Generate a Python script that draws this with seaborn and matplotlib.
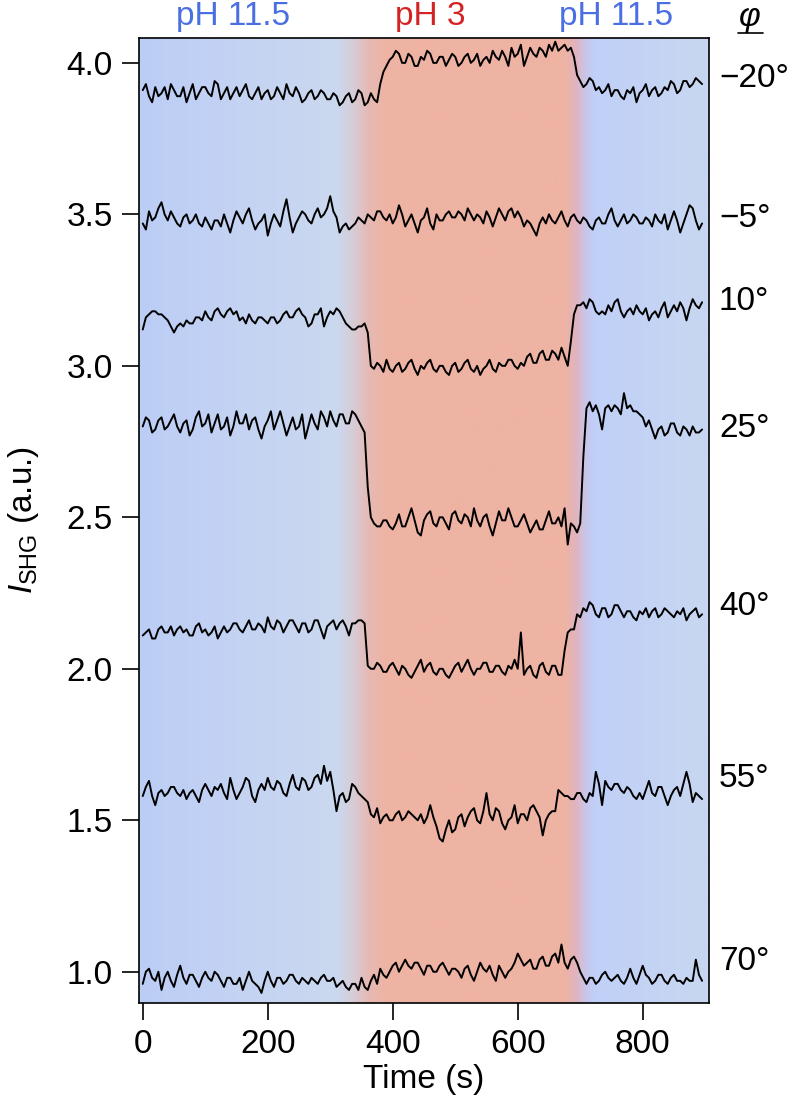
import matplotlib
matplotlib.use('Agg')
import matplotlib.pyplot as plt
import matplotlib.transforms as mtransforms
from matplotlib.colors import LinearSegmentedColormap
import numpy as np
import pandas as pd
import seaborn as sns

# sample times (s), one reading every 5 s
time_s = np.arange(0, 900, 5)

# SHG traces, one per polarisation angle
phi_m20 = [3.91, 3.93, 3.89, 3.87, 3.92, 3.89, 3.90, 3.92, 3.88, 3.93, 3.91, 3.89, 3.89, 3.92, 3.87, 3.90, 3.93, 3.88, 3.90, 3.92,
           3.92, 3.90, 3.89, 3.94, 3.93, 3.88, 3.90, 3.92, 3.88, 3.90, 3.92, 3.89, 3.91, 3.93, 3.89, 3.88, 3.90, 3.92, 3.88, 3.90,
           3.91, 3.88, 3.89, 3.92, 3.90, 3.88, 3.93, 3.90, 3.89, 3.92, 3.90, 3.87, 3.88, 3.90, 3.91, 3.88, 3.89, 3.91, 3.90, 3.88,
           3.88, 3.90, 3.89, 3.86, 3.87, 3.89, 3.90, 3.87, 3.88, 3.91, 3.90, 3.86, 3.87, 3.90, 3.88, 3.87, 3.93, 3.97, 3.99, 4.01,
           4.02, 4.04, 4.03, 4.00, 4.00, 4.03, 4.02, 3.99, 3.99, 4.02, 4.01, 4.04, 4.03, 4.00, 4.00, 4.02, 4.02, 3.99, 4.01, 4.03,
           4.02, 3.99, 4.00, 4.02, 4.03, 4.00, 4.01, 4.03, 3.99, 4.01, 4.02, 4.00, 4.04, 4.02, 4.01, 4.04, 4.02, 3.99, 4.05, 4.02,
           4.03, 4.06, 3.99, 4.02, 4.05, 4.03, 4.02, 4.05, 4.04, 4.02, 4.06, 4.04, 4.07, 4.04, 4.05, 4.06, 4.04, 4.05, 4.02, 3.96,
           3.94, 3.92, 3.93, 3.95, 3.94, 3.91, 3.92, 3.90, 3.91, 3.93, 3.89, 3.91, 3.91, 3.89, 3.88, 3.91, 3.90, 3.92, 3.87, 3.90,
           3.91, 3.93, 3.89, 3.91, 3.92, 3.89, 3.90, 3.92, 3.91, 3.94, 3.93, 3.90, 3.91, 3.94, 3.94, 3.92, 3.93, 3.95, 3.94, 3.93]
phi_m5 = [3.47, 3.45, 3.51, 3.48, 3.49, 3.52, 3.54, 3.50, 3.48, 3.51, 3.49, 3.47, 3.46, 3.49, 3.50, 3.47, 3.48, 3.50, 3.47, 3.46,
          3.49, 3.47, 3.45, 3.48, 3.48, 3.46, 3.50, 3.47, 3.44, 3.48, 3.51, 3.49, 3.47, 3.50, 3.52, 3.48, 3.45, 3.47, 3.48, 3.50,
          3.43, 3.47, 3.50, 3.48, 3.46, 3.51, 3.55, 3.49, 3.44, 3.47, 3.49, 3.51, 3.50, 3.48, 3.47, 3.50, 3.52, 3.49, 3.50, 3.52,
          3.56, 3.51, 3.49, 3.44, 3.46, 3.47, 3.45, 3.46, 3.47, 3.49, 3.48, 3.47, 3.50, 3.49, 3.48, 3.51, 3.51, 3.49, 3.48, 3.50,
          3.47, 3.49, 3.53, 3.50, 3.46, 3.48, 3.50, 3.47, 3.44, 3.48, 3.49, 3.52, 3.47, 3.45, 3.50, 3.48, 3.48, 3.50, 3.51, 3.49,
          3.49, 3.51, 3.50, 3.48, 3.52, 3.50, 3.48, 3.50, 3.49, 3.47, 3.51, 3.49, 3.46, 3.49, 3.52, 3.50, 3.48, 3.51, 3.52, 3.49,
          3.51, 3.49, 3.46, 3.48, 3.47, 3.45, 3.43, 3.47, 3.49, 3.47, 3.50, 3.48, 3.47, 3.49, 3.51, 3.48, 3.46, 3.49, 3.50, 3.48,
          3.47, 3.49, 3.48, 3.46, 3.45, 3.48, 3.49, 3.47, 3.47, 3.50, 3.52, 3.48, 3.46, 3.48, 3.50, 3.47, 3.48, 3.50, 3.49, 3.47,
          3.47, 3.49, 3.48, 3.46, 3.50, 3.48, 3.47, 3.50, 3.45, 3.48, 3.51, 3.48, 3.44, 3.47, 3.50, 3.53, 3.52, 3.48, 3.45, 3.47]
phi_10 = [3.12, 3.16, 3.17, 3.18, 3.18, 3.17, 3.17, 3.16, 3.15, 3.13, 3.11, 3.13, 3.14, 3.13, 3.15, 3.14, 3.14, 3.16, 3.16, 3.15,
          3.18, 3.16, 3.15, 3.18, 3.19, 3.17, 3.16, 3.18, 3.19, 3.17, 3.18, 3.15, 3.16, 3.14, 3.17, 3.15, 3.14, 3.16, 3.16, 3.15,
          3.14, 3.16, 3.16, 3.14, 3.15, 3.17, 3.18, 3.16, 3.16, 3.18, 3.19, 3.17, 3.16, 3.13, 3.14, 3.17, 3.17, 3.19, 3.13, 3.16,
          3.18, 3.17, 3.19, 3.18, 3.16, 3.14, 3.13, 3.12, 3.12, 3.13, 3.13, 3.14, 3.11, 3.00, 2.99, 3.01, 3.00, 2.98, 3.02, 2.99,
          2.98, 3.00, 3.01, 2.98, 2.99, 3.01, 3.02, 2.99, 2.97, 3.00, 2.99, 3.01, 3.02, 2.99, 2.98, 3.00, 3.00, 2.98, 2.97, 3.00,
          3.01, 2.98, 2.99, 3.01, 3.02, 2.99, 2.98, 3.00, 2.97, 2.99, 3.00, 3.02, 2.99, 2.98, 3.01, 3.00, 3.00, 3.02, 3.02, 3.00,
          2.99, 3.01, 3.00, 3.03, 3.04, 3.01, 3.01, 3.04, 3.05, 3.02, 3.02, 3.05, 3.04, 3.02, 3.06, 3.03, 3.00, 3.08, 3.17, 3.20,
          3.20, 3.21, 3.19, 3.22, 3.21, 3.18, 3.17, 3.18, 3.17, 3.20, 3.18, 3.21, 3.22, 3.18, 3.16, 3.18, 3.19, 3.17, 3.20, 3.18,
          3.17, 3.19, 3.15, 3.17, 3.18, 3.16, 3.19, 3.21, 3.16, 3.18, 3.20, 3.18, 3.21, 3.19, 3.15, 3.19, 3.22, 3.20, 3.19, 3.21]
phi_25 = [2.80, 2.83, 2.82, 2.78, 2.79, 2.82, 2.83, 2.79, 2.80, 2.82, 2.84, 2.80, 2.78, 2.81, 2.82, 2.77, 2.79, 2.83, 2.85, 2.80,
          2.81, 2.84, 2.78, 2.81, 2.84, 2.79, 2.80, 2.83, 2.77, 2.80, 2.85, 2.81, 2.81, 2.84, 2.79, 2.82, 2.83, 2.79, 2.76, 2.80,
          2.82, 2.85, 2.79, 2.82, 2.85, 2.81, 2.77, 2.80, 2.83, 2.79, 2.80, 2.84, 2.76, 2.80, 2.84, 2.81, 2.79, 2.85, 2.83, 2.80,
          2.85, 2.82, 2.80, 2.84, 2.84, 2.81, 2.81, 2.85, 2.84, 2.82, 2.80, 2.78, 2.60, 2.50, 2.48, 2.47, 2.47, 2.49, 2.49, 2.47,
          2.46, 2.48, 2.51, 2.47, 2.47, 2.50, 2.53, 2.49, 2.45, 2.44, 2.49, 2.51, 2.52, 2.48, 2.47, 2.50, 2.50, 2.48, 2.46, 2.51,
          2.52, 2.49, 2.48, 2.51, 2.50, 2.47, 2.53, 2.49, 2.47, 2.50, 2.51, 2.47, 2.44, 2.48, 2.52, 2.49, 2.49, 2.53, 2.50, 2.47,
          2.47, 2.49, 2.51, 2.48, 2.45, 2.47, 2.49, 2.46, 2.46, 2.49, 2.52, 2.48, 2.48, 2.50, 2.47, 2.53, 2.41, 2.48, 2.47, 2.45,
          2.48, 2.70, 2.86, 2.88, 2.85, 2.87, 2.84, 2.79, 2.86, 2.87, 2.85, 2.87, 2.86, 2.84, 2.91, 2.86, 2.87, 2.85, 2.85, 2.84,
          2.83, 2.80, 2.82, 2.79, 2.76, 2.79, 2.80, 2.77, 2.78, 2.81, 2.81, 2.78, 2.77, 2.80, 2.79, 2.77, 2.80, 2.78, 2.78, 2.79]
phi_40 = [2.11, 2.12, 2.13, 2.10, 2.10, 2.13, 2.14, 2.12, 2.12, 2.14, 2.11, 2.13, 2.14, 2.12, 2.13, 2.11, 2.11, 2.14, 2.15, 2.12,
          2.13, 2.11, 2.12, 2.14, 2.10, 2.12, 2.14, 2.12, 2.13, 2.15, 2.15, 2.13, 2.12, 2.14, 2.16, 2.13, 2.13, 2.15, 2.14, 2.12,
          2.17, 2.14, 2.13, 2.16, 2.15, 2.12, 2.14, 2.16, 2.16, 2.14, 2.12, 2.15, 2.15, 2.12, 2.13, 2.16, 2.16, 2.13, 2.10, 2.14,
          2.15, 2.16, 2.13, 2.15, 2.16, 2.14, 2.11, 2.15, 2.15, 2.16, 2.16, 2.15, 2.01, 2.00, 2.00, 2.02, 2.01, 1.99, 1.99, 2.01,
          2.02, 2.00, 1.98, 2.01, 2.00, 1.98, 1.97, 1.99, 2.01, 2.03, 1.99, 2.01, 2.02, 1.99, 1.98, 2.00, 2.00, 1.98, 1.97, 1.99,
          2.01, 2.02, 1.99, 2.01, 2.03, 2.00, 1.98, 2.00, 2.00, 2.02, 2.02, 1.99, 1.99, 2.01, 2.01, 1.99, 1.98, 2.01, 2.00, 2.03,
          2.00, 2.12, 1.98, 2.00, 2.01, 1.98, 1.97, 2.01, 2.02, 1.99, 1.98, 2.01, 2.01, 1.98, 1.98, 2.06, 2.12, 2.13, 2.13, 2.18,
          2.17, 2.20, 2.19, 2.22, 2.21, 2.18, 2.17, 2.20, 2.20, 2.17, 2.18, 2.21, 2.21, 2.19, 2.17, 2.19, 2.19, 2.17, 2.16, 2.19,
          2.18, 2.20, 2.17, 2.19, 2.20, 2.17, 2.18, 2.20, 2.19, 2.18, 2.17, 2.19, 2.18, 2.20, 2.16, 2.18, 2.19, 2.20, 2.17, 2.18]
phi_55 = [1.58, 1.61, 1.63, 1.58, 1.55, 1.59, 1.60, 1.58, 1.59, 1.61, 1.61, 1.59, 1.58, 1.60, 1.57, 1.59, 1.60, 1.58, 1.56, 1.60,
          1.62, 1.60, 1.58, 1.61, 1.60, 1.62, 1.59, 1.57, 1.64, 1.60, 1.57, 1.59, 1.61, 1.64, 1.63, 1.58, 1.56, 1.60, 1.62, 1.60,
          1.64, 1.61, 1.60, 1.63, 1.62, 1.59, 1.58, 1.62, 1.65, 1.61, 1.60, 1.64, 1.63, 1.60, 1.61, 1.64, 1.65, 1.62, 1.68, 1.63,
          1.66, 1.60, 1.53, 1.58, 1.59, 1.56, 1.57, 1.62, 1.61, 1.59, 1.58, 1.57, 1.56, 1.52, 1.51, 1.54, 1.49, 1.51, 1.52, 1.50,
          1.50, 1.52, 1.53, 1.50, 1.51, 1.53, 1.52, 1.51, 1.50, 1.52, 1.49, 1.51, 1.55, 1.51, 1.48, 1.44, 1.43, 1.47, 1.50, 1.46,
          1.47, 1.51, 1.52, 1.48, 1.51, 1.53, 1.54, 1.50, 1.49, 1.53, 1.59, 1.52, 1.50, 1.54, 1.53, 1.49, 1.47, 1.50, 1.51, 1.55,
          1.49, 1.52, 1.52, 1.50, 1.54, 1.55, 1.53, 1.51, 1.45, 1.50, 1.52, 1.53, 1.53, 1.60, 1.59, 1.58, 1.58, 1.57, 1.57, 1.59,
          1.59, 1.57, 1.56, 1.59, 1.58, 1.66, 1.62, 1.55, 1.63, 1.61, 1.60, 1.62, 1.62, 1.60, 1.59, 1.61, 1.60, 1.58, 1.57, 1.59,
          1.57, 1.60, 1.63, 1.59, 1.58, 1.61, 1.61, 1.58, 1.55, 1.58, 1.60, 1.61, 1.58, 1.62, 1.66, 1.62, 1.56, 1.59, 1.58, 1.57]
phi_70 = [0.96, 1.00, 1.01, 0.98, 0.97, 1.00, 0.94, 0.98, 1.00, 0.97, 0.95, 0.99, 1.02, 0.98, 0.96, 0.99, 0.99, 0.97, 0.95, 0.98,
          1.00, 0.98, 0.97, 1.00, 0.99, 0.97, 0.95, 0.98, 0.98, 0.96, 0.96, 0.98, 0.94, 0.97, 1.00, 0.97, 0.96, 0.95, 0.93, 0.97,
          1.00, 0.97, 0.95, 0.98, 0.98, 0.96, 0.97, 0.99, 0.99, 0.97, 0.96, 0.98, 0.97, 0.96, 0.98, 0.97, 0.96, 0.98, 0.99, 0.97,
          0.97, 0.98, 0.95, 0.96, 0.97, 0.95, 0.94, 0.96, 0.96, 0.94, 0.98, 0.95, 0.94, 0.97, 0.99, 0.96, 1.01, 0.99, 0.98, 1.00,
          1.02, 1.03, 1.00, 1.02, 1.04, 1.02, 1.01, 1.03, 1.03, 1.01, 0.99, 1.02, 1.02, 1.00, 1.00, 1.02, 1.03, 1.01, 0.99, 1.01,
          1.01, 1.00, 0.98, 1.01, 1.02, 0.99, 0.97, 1.00, 1.03, 1.01, 1.00, 1.02, 0.99, 0.97, 1.02, 1.00, 0.98, 1.00, 1.01, 1.03,
          1.06, 1.04, 1.02, 1.03, 1.04, 1.01, 1.01, 1.04, 1.05, 1.02, 1.02, 1.05, 1.06, 1.03, 1.09, 1.03, 1.01, 1.04, 1.05, 1.03,
          1.00, 0.98, 0.96, 0.98, 0.98, 0.96, 0.97, 0.99, 1.00, 0.98, 0.97, 0.98, 0.99, 0.97, 0.96, 0.98, 1.01, 0.98, 0.96, 0.99,
          1.02, 0.99, 0.98, 0.96, 0.97, 0.99, 0.99, 0.97, 0.96, 0.98, 0.99, 0.97, 0.97, 0.96, 0.98, 0.97, 0.97, 1.04, 0.99, 0.97]

traces = [phi_m20, phi_m5, phi_10, phi_25, phi_40, phi_55, phi_70]
angle_labels = ['\u221220\u00b0', '\u22125\u00b0', '10\u00b0', '25\u00b0',
                '40\u00b0', '55\u00b0', '70\u00b0']
angle_label_y = [3.95, 3.486, 3.213, 2.794, 2.205, 1.639, 1.035]

ph_labels = ['pH 11.5', 'pH 3', 'pH 11.5']
ph_label_x = [145, 460, 758]
ph_colors = ['#4b6fe3', '#d42323', '#4b6fe3']

sns.set_theme(style='ticks')
plt.rcParams['font.family'] = ['Liberation Sans', 'DejaVu Sans']
plt.rcParams['mathtext.fontset'] = 'custom'
plt.rcParams['mathtext.rm'] = 'Liberation Sans'
plt.rcParams['mathtext.it'] = 'Liberation Sans:italic'
plt.rcParams['text.color'] = 'black'
plt.rcParams['axes.labelcolor'] = 'black'

FS = 24

fig = plt.figure(figsize=(7.88, 11.1), dpi=100)
ax = fig.add_axes([0.1764, 0.0967, 0.7233, 0.8693])

x_lo, x_hi = -6, 906
y_lo, y_hi = 0.898, 4.083

# background: blue (pH 11.5) -> red (pH 3) -> blue, with soft edges
stops = [(-6, '#bccdf6'), (150, '#c4d3f3'), (310, '#cad8ef'), (335, '#d6cdd8'),
         (360, '#e6bab4'), (390, '#eeb3a3'), (675, '#eeb3a3'), (695, '#e0b4c0'),
         (712, '#c6c8ee'), (725, '#c0d0f8'), (906, '#c8d7f0')]
cmap = LinearSegmentedColormap.from_list(
    'ph', [((s - x_lo) / (x_hi - x_lo), c) for s, c in stops])
grad = np.linspace(0, 1, 1000)[None, :]
ax.imshow(grad, cmap=cmap, aspect='auto', extent=[x_lo, x_hi, y_lo, y_hi],
          origin='lower', zorder=0, interpolation='bilinear')

for vals in traces:
    d = pd.DataFrame({'t': time_s, 'v': vals})
    sns.lineplot(data=d, x='t', y='v', color='black', lw=1.4, ax=ax, zorder=3)

ax.set_xlim(x_lo, x_hi)
ax.set_ylim(y_lo, y_hi)
ax.set_xticks([0, 200, 400, 600, 800])
ax.set_yticks([1.0, 1.5, 2.0, 2.5, 3.0, 3.5, 4.0])
ax.set_yticklabels(['1.0', '1.5', '2.0', '2.5', '3.0', '3.5', '4.0'])
ax.tick_params(direction='out', length=12, width=1.2, colors='black',
               labelsize=FS, pad=7)
for sp in ax.spines.values():
    sp.set_color('black')
    sp.set_linewidth(1.2)

ax.set_xlabel('Time (s)', fontsize=FS, labelpad=3)
ax.set_ylabel(r'$I_{\mathrm{SHG}}$ (a.u.)', fontsize=FS, labelpad=18)

top = mtransforms.blended_transform_factory(ax.transData, ax.transAxes)
for lab, xp, col in zip(ph_labels, ph_label_x, ph_colors):
    ax.text(xp, 1.013, lab, color=col, fontsize=FS, ha='center',
            va='baseline', transform=top)

right = mtransforms.blended_transform_factory(ax.transAxes, ax.transData)
for lab, yp in zip(angle_labels, angle_label_y):
    ax.text(1.0175, yp, lab, fontsize=FS, ha='left', va='center',
            transform=right)

fig.text(750 / 788, 1 - 26 / 1110, '\u03c6', fontsize=FS, style='italic',
         ha='center', va='baseline')
fig.add_artist(plt.Line2D([738 / 788, 763 / 788], [1 - 33 / 1110, 1 - 33 / 1110],
                          color='black', lw=1.2))

fig.savefig('out.png', dpi=100)
